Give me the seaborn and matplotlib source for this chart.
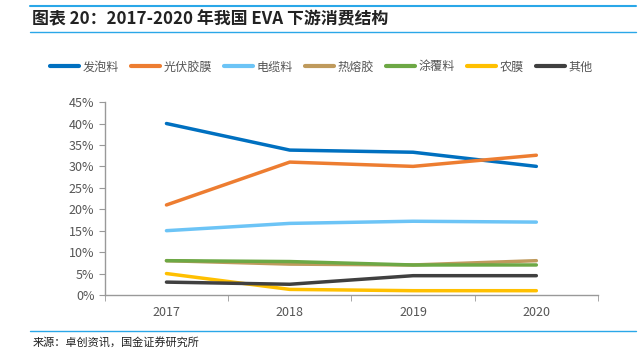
import pandas as pd
import matplotlib
matplotlib.use('Agg')
import matplotlib.pyplot as plt
import seaborn as sns
from matplotlib.lines import Line2D

years = ['2017', '2018', '2019', '2020']
series = ['发泡料', '光伏胶膜', '电缆料', '热熔胶', '涂覆料', '农膜', '其他']
foam = [40.0, 33.8, 33.3, 30.0]
pv_film = [21.0, 31.0, 30.0, 32.6]
cable = [15.0, 16.7, 17.2, 17.0]
hot_melt = [8.0, 7.2, 7.0, 8.0]
coating = [8.0, 7.8, 7.0, 7.0]
agri_film = [5.0, 1.3, 1.0, 1.0]
other = [3.0, 2.5, 4.5, 4.5]
colors = ['#0070C0', '#ED7D31', '#6CC4F6', '#BF9A5C', '#6DA845', '#FFC000', '#404040']

sns.set_style('white')
plt.rcParams['font.family'] = ['Noto Sans CJK SC', 'DejaVu Sans']

rows = []
for name, vals in zip(series, [foam, pv_film, cable, hot_melt, coating, agri_film, other]):
    for i, v in enumerate(vals):
        rows.append({'series': name, 'x': i, 'value': v})
df = pd.DataFrame(rows)

fig = plt.figure(figsize=(6.43, 3.52), dpi=100)
ax = fig.add_axes([0.163, 0.162, 0.767, 0.548])
sns.lineplot(data=df, x='x', y='value', hue='series', hue_order=series,
             palette=colors, linewidth=2.5, ax=ax, legend=False)

ax.set_xlim(-0.5, 3.5)
ax.set_ylim(0, 45)
ax.set_yticks(range(0, 46, 5))
ax.set_yticklabels([f'{v}%' for v in range(0, 46, 5)])
ax.set_xticks(range(4))
ax.set_xticklabels(years)
ax.set_xticks([-0.5, 0.5, 1.5, 2.5, 3.5], minor=True)
ax.tick_params(axis='x', which='major', length=0, pad=8)
ax.tick_params(axis='x', which='minor', length=4, color='#999999', direction='out', bottom=True)
ax.tick_params(axis='y', length=4, color='#999999', direction='out', left=True)
ax.tick_params(labelsize=9, labelcolor='#555555')
ax.set_xlabel('')
ax.set_ylabel('')
for s in ['top', 'right']:
    ax.spines[s].set_visible(False)
for s in ['left', 'bottom']:
    ax.spines[s].set_color('#999999')
    ax.spines[s].set_linewidth(1)

handles = [Line2D([0], [0], color=c, lw=3) for c in colors]
fig.legend(handles, series, loc='center', bbox_to_anchor=(0.5, 0.81), ncol=7,
           frameon=False, fontsize=8.7, handlelength=2.4, handletextpad=0.3,
           columnspacing=1.0, labelcolor='#555555')

fig.text(0.05, 0.945, '图表 20：2017-2020 年我国 EVA 下游消费结构', fontsize=12.2,
         fontweight='bold', style='italic', va='center', ha='left', color='#222222')
fig.add_artist(Line2D([0.047, 0.989], [0.983, 0.983], color='#2AA7E8', lw=1.5))
fig.add_artist(Line2D([0.047, 0.989], [0.909, 0.909], color='#2AA7E8', lw=1.0))
fig.add_artist(Line2D([0.047, 0.989], [0.06, 0.06], color='#2AA7E8', lw=1.0))
fig.text(0.05, 0.026, '来源：卓创资讯，国金证券研究所', fontsize=8, va='center',
         ha='left', color='#222222')

fig.savefig('out.png', dpi=100)
